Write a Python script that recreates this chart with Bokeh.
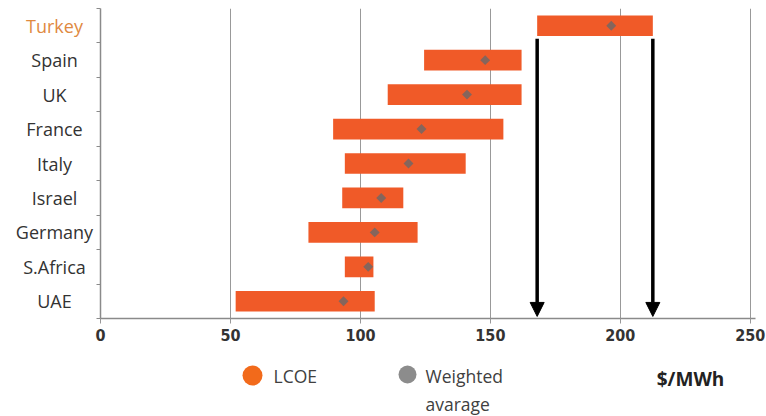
from bokeh.plotting import figure
from bokeh.layouts import row, column
from bokeh.models import Range1d, FixedTicker, ColumnDataSource, Arrow, NormalHead
from bokeh.embed import file_html
from bokeh.resources import INLINE
from bokeh.core.properties import value

# ---- data ----
countries = ["Turkey", "Spain", "UK", "France", "Italy", "Israel", "Germany", "S.Africa", "UAE"]
lcoe_low = [168.0, 124.5, 110.5, 89.5, 94.0, 93.0, 80.0, 94.0, 52.0]
lcoe_high = [212.5, 162.0, 162.0, 155.0, 140.5, 116.5, 122.0, 105.0, 105.5]
weighted_avg = [196.5, 148.0, 141.0, 123.5, 118.5, 108.0, 105.5, 103.0, 93.5]
x_ticks = [0, 50, 100, 150, 200, 250]
highlight = "Turkey"
legend_names = ["LCOE", "Weighted"]
legend_second_line = "avarage"
unit_text = "$/MWh"

BAR = "#F05A28"
DOT = "#85655c"
DARK = "#333333"
HL = "#E0893F"
GRID = "#999999"
AXIS = "#8a8a8a"
LEG_COLORS = ["#F26A1B", "#8C8C8C"]

n = len(countries)
pos = [n - i - 0.5 for i in range(n)]
src = ColumnDataSource(dict(
    country=countries, low=lcoe_low, high=lcoe_high, w=weighted_avg, pos=pos,
    color=[HL if c == highlight else DARK for c in countries],
))

TOP, BOTTOM, H_MAIN = 8, 40, 358
LAB_W = 94
yr = Range1d(0, n)

# ---------- category labels column ----------
lab = figure(width=LAB_W, height=H_MAIN, x_range=Range1d(0, LAB_W), y_range=yr,
             x_axis_type=None, y_axis_type=None, output_backend="svg", toolbar_location=None,
             min_border_left=0, min_border_right=0, min_border_top=TOP, min_border_bottom=BOTTOM)
lab.outline_line_color = None
lab.grid.visible = False
lab.text(x=54, y="pos", text="country", source=src, text_align="center",
         text_baseline="middle", text_color="color",
         text_font=value("Open Sans"), text_font_size=value("18px"))

# ---------- main chart ----------
p = figure(width=766 - LAB_W, height=H_MAIN, x_range=Range1d(0, 252), y_range=yr,
           output_backend="svg", toolbar_location=None,
           min_border_left=100 - LAB_W, min_border_right=11, min_border_top=TOP,
           min_border_bottom=BOTTOM)
p.outline_line_color = None

p.hbar(y="pos", left="low", right="high", height=0.6, source=src,
       fill_color=BAR, line_color=None)
p.scatter(x="w", y="pos", source=src, marker="square", angle=0.785398, size=7,
          fill_color=DOT, line_color=None)

p.xaxis.ticker = FixedTicker(ticks=x_ticks)
p.xgrid.ticker = FixedTicker(ticks=x_ticks)
p.xgrid.grid_line_color = GRID
p.ygrid.grid_line_color = None
p.xaxis.minor_tick_line_color = None
p.xaxis.major_tick_in = 0
p.xaxis.major_tick_out = 5
p.xaxis.major_tick_line_color = GRID
p.xaxis.axis_line_color = AXIS
p.xaxis.axis_line_width = 1.5
p.xaxis.major_label_text_font = "DejaVu Sans Condensed"
p.xaxis.major_label_text_font_style = "bold"
p.xaxis.major_label_text_font_size = "16px"
p.xaxis.major_label_text_color = DARK
p.xaxis.major_label_standoff = 5

p.yaxis.ticker = FixedTicker(ticks=pos, minor_ticks=list(range(n + 1)))
p.yaxis.major_tick_line_color = None
p.yaxis.major_tick_in = 0
p.yaxis.major_tick_out = 0
p.yaxis.minor_tick_in = 0
p.yaxis.minor_tick_out = 4
p.yaxis.minor_tick_line_color = AXIS
p.yaxis.axis_line_color = AXIS
p.yaxis.axis_line_width = 1.5
p.yaxis.major_label_standoff = 0
p.yaxis.major_label_overrides = {v: "" for v in pos}

hi = countries.index(highlight)
for xv in (lcoe_low[hi], lcoe_high[hi]):
    p.add_layout(Arrow(end=NormalHead(size=14, fill_color="black", line_color="black"),
                       x_start=xv, y_start=pos[hi] - 0.38, x_end=xv, y_end=0.06,
                       line_width=3.5, line_color="black"))

# ---------- legend strip (pixel-space figure, y downward) ----------
H_LEG = 416 - H_MAIN
leg = figure(width=766, height=H_LEG, x_range=Range1d(0, 766), y_range=Range1d(H_LEG, 0),
             x_axis_type=None, y_axis_type=None, output_backend="svg", toolbar_location=None,
             min_border=0)
leg.outline_line_color = None
leg.grid.visible = False

leg_src = ColumnDataSource(dict(
    sx=[252, 407], sy=[17, 16], size=[20, 18], color=LEG_COLORS,
    tx=[273, 425], ty=[17, 17], label=legend_names,
))
leg.scatter(x="sx", y="sy", size="size", fill_color="color", line_color=None,
            marker="circle", source=leg_src)
leg.text(x="tx", y="ty", text="label", source=leg_src, text_baseline="middle",
         text_font=value("Open Sans"), text_font_size=value("17.5px"), text_color="#404040")
leg.text(x=[425], y=[45], text=[legend_second_line], text_baseline="middle",
         text_font=value("Open Sans"), text_font_size=value("17.5px"), text_color="#404040")
leg.text(x=[690], y=[20], text=[unit_text], text_align="center", text_baseline="middle",
         text_font=value("Open Sans"), text_font_style="bold", text_font_size=value("19px"),
         text_color="#222222")

layout = column(row(lab, p), leg)
open("out.html", "w").write(file_html(layout, INLINE))
